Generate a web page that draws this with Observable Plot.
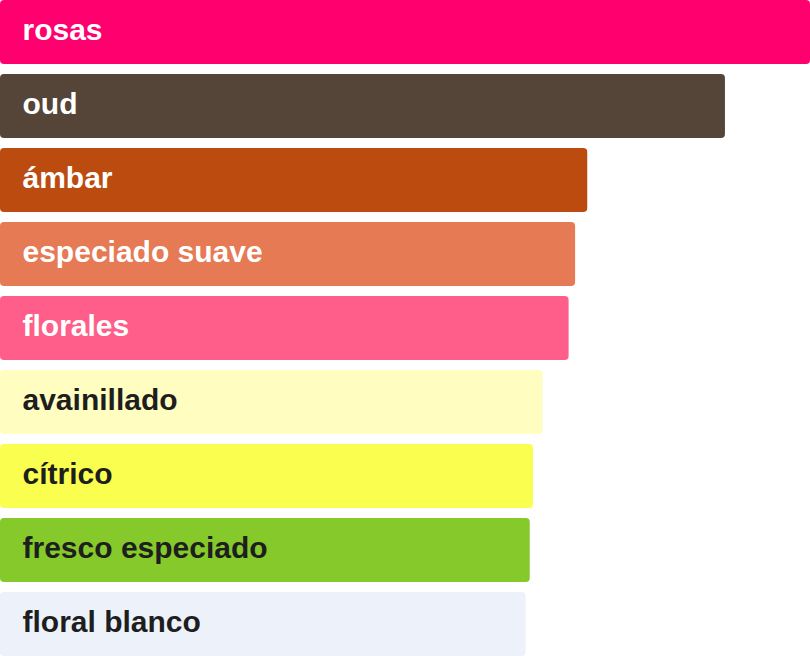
<!DOCTYPE html>
<html>
<head>
<meta charset="utf-8">
<script src="https://cdn.jsdelivr.net/npm/d3@7"></script>
<script src="https://cdn.jsdelivr.net/npm/@observablehq/plot@0.6"></script>
<style>
  html, body { margin: 0; padding: 0; background: #fff; }
  #chart svg { display: block; }
</style>
</head>
<body>
<div id="chart"></div>
<script>
const categories = ["rosas", "oud", "ámbar", "especiado suave", "florales", "avainillado", "cítrico", "fresco especiado", "floral blanco"];
const values = [100, 89.5, 72.5, 71, 70.2, 67, 65.8, 65.4, 64.9];
const barColors = ["#ff006e", "#554438", "#bc4b10", "#e57a55", "#ff5e8a", "#fffdc0", "#f9fe4f", "#86c92a", "#edf2fa"];
const labelColors = ["#ffffff", "#ffffff", "#ffffff", "#ffffff", "#ffffff", "#1e1e1e", "#1e1e1e", "#1e1e1e", "#1e1e1e"];

const data = categories.map((c, i) => ({category: c, value: values[i], bar: barColors[i], label: labelColors[i]}));

const chart = Plot.plot({
  width: 810,
  height: 656,
  marginTop: 0,
  marginBottom: 0,
  marginLeft: 0,
  marginRight: 0,
  x: {domain: [0, d3.max(values)], range: [0, 810], axis: null},
  y: {domain: categories, paddingInner: 10 / 74, paddingOuter: 0, axis: null},
  marks: [
    Plot.barX(data, {x: "value", y: "category", fill: "bar", rx: 4}),
    Plot.text(data, {
      x: 0, y: "category", text: "category", fill: "label",
      dx: 22, dy: -2, textAnchor: "start", fontSize: 30, fontWeight: "bold",
      fontFamily: "Liberation Sans, Arial, sans-serif"
    })
  ]
});
document.getElementById("chart").appendChild(chart);
</script>
</body>
</html>
